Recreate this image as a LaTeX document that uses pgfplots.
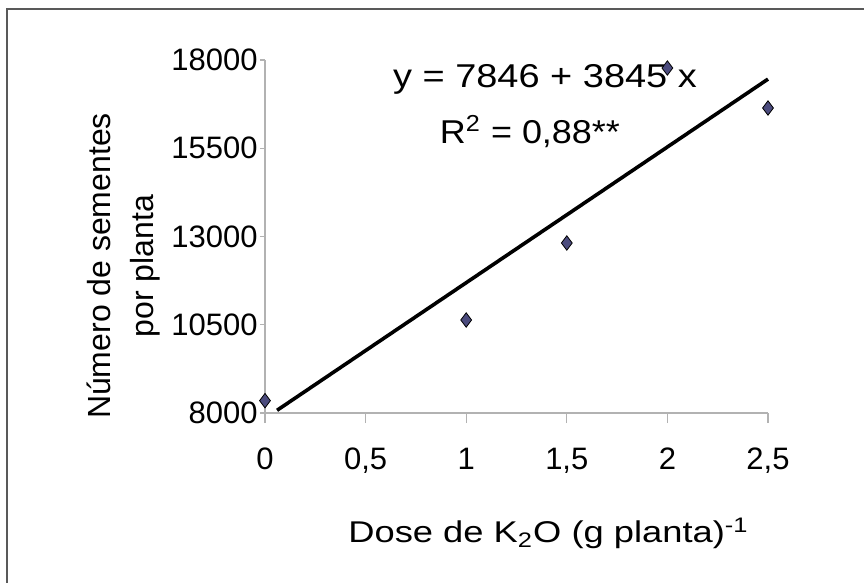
\documentclass[border=0pt]{standalone}
\usepackage{fontspec}
\setmainfont{Liberation Sans}
\usepackage{graphicx}
\usepackage{pgfplots}
\pgfplotsset{compat=1.18}
\definecolor{mk}{RGB}{75,75,125}
\begin{document}
\begin{tikzpicture}
\useasboundingbox (0,0) rectangle (432pt,-291.5pt);
\draw[black!65, line width=1pt] (432pt,-4.5pt) -- (3.5pt,-4.5pt) -- (3.5pt,-291.5pt);
\begin{axis}[
  at={(132.5pt,-206.5pt)}, anchor=south west,
  scale only axis, width=251.5pt, height=176.5pt,
  xmin=0, xmax=2.5, ymin=8000, ymax=18000,
  axis x line=bottom, axis y line=left,
  axis line style={-, draw=black!30, line width=0.6pt},
  tick style={black!30, line width=0.6pt},
  tick align=outside, major tick length=2.5pt,
  xtick style={/pgfplots/major tick length=5pt},
  xtick={0,0.5,1,1.5,2,2.5},
  xticklabels={0,{0,5},1,{1,5},2,{2,5}},
  ytick={8000,10500,13000,15500,18000},
  yticklabels={8000,10500,13000,15500,18000},
  scaled y ticks=false, scaled x ticks=false,
  ticklabel style={font=\fontsize{15.5}{18}\selectfont},
  xticklabel shift=11.5pt,
  yticklabel style={inner xsep=1pt},
  clip=false,
]
\addplot[black, line width=1.8pt] coordinates {(0.06,8076.7) (2.5,17458.5)};
\addplot[only marks, mark=diamond*, mark size=3.6pt, mark options={fill=mk, draw=black, line width=0.4pt}]
  coordinates {(0,8350) (1,10635) (1.5,12816) (2,17773) (2.5,16640)};
\end{axis}
\node[anchor=base, font=\fontsize{16.5}{20}\selectfont, inner sep=0pt] at (272.5pt,-43.65pt) {\scalebox{1.15}[1]{y = 7846 + 3845 x}};
\node[anchor=base, font=\fontsize{16.5}{20}\selectfont, inner sep=0pt] at (265pt,-72pt) {\scalebox{1.09}[1]{R\textsuperscript{2} = 0,88**}};
\node[anchor=base west, font=\fontsize{15}{18}\selectfont, inner sep=0pt] at (174pt,-271.5pt) {\scalebox{1.21}[1]{Dose de K\textsubscript{2}O (g planta)\textsuperscript{-1}}};
\node[rotate=90, align=center, font=\fontsize{16}{21.5}\selectfont, inner sep=0pt] at (61.75pt,-133pt) {Número de sementes\\por planta};
\end{tikzpicture}
\end{document}
